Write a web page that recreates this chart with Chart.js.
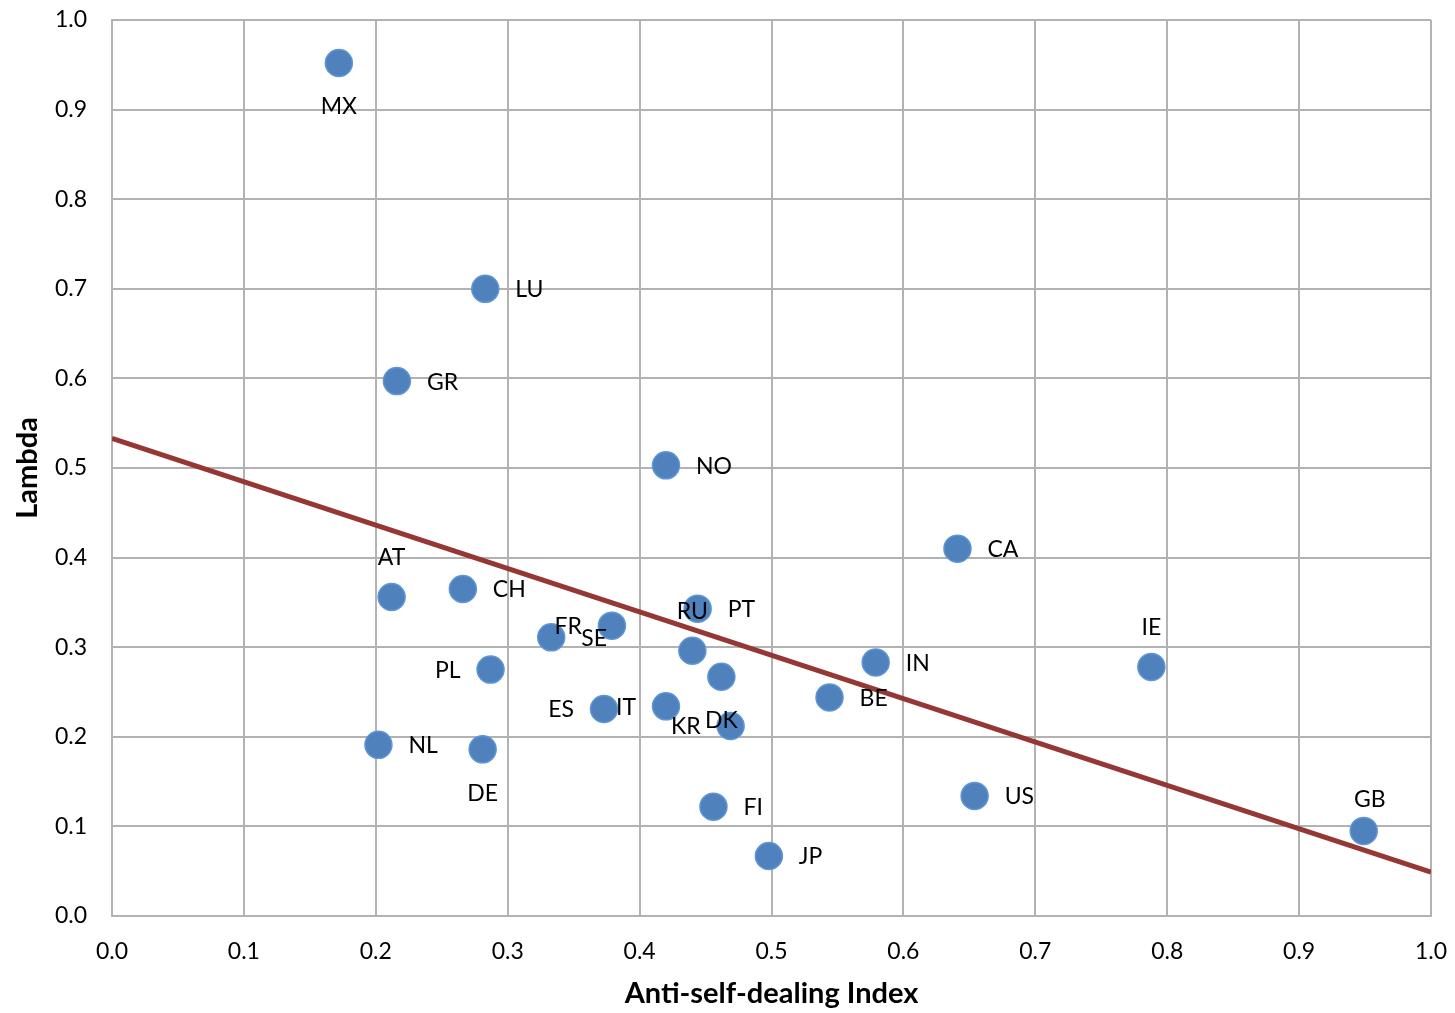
<!DOCTYPE html>
<html>
<head>
<meta charset="utf-8">
<title>Lambda vs Anti-self-dealing Index</title>
<script src="https://cdn.jsdelivr.net/npm/chart.js@4/dist/chart.umd.min.js"></script>
<style>
  html, body { margin: 0; padding: 0; background: #fff; }
  #wrap { width: 1455px; height: 1013px; }
</style>
</head>
<body>
<div id="wrap"><canvas id="chart" width="1455" height="1013"></canvas></div>
<script>
// --- data ---
const countries = ['MX','LU','GR','NO','CA','AT','CH','PT','RU','FR','SE','IN','IE','PL','BE','ES','IT','KR','DK','NL','DE','US','GB','FI','JP'];
const antiSelfDealing = [0.172,0.283,0.216,0.420,0.641,0.212,0.266,0.444,0.440,0.379,0.333,0.579,0.788,0.287,0.544,0.373,0.420,0.469,0.462,0.202,0.281,0.654,0.949,0.456,0.498];
const lambdaValues = [0.952,0.700,0.597,0.503,0.410,0.356,0.365,0.343,0.296,0.324,0.311,0.283,0.278,0.275,0.244,0.231,0.234,0.212,0.267,0.191,0.186,0.134,0.095,0.122,0.067];
const trendX = [0, 1];
const trendY = [0.533, 0.049];
const tickValues = [0,0.1,0.2,0.3,0.4,0.5,0.6,0.7,0.8,0.9,1.0];

// where each label sits relative to its marker (r = right, l = left, a = above, b = below)
const labelPos = ['b','r','r','r','r','a','r','r','a','l','r','r','a','l','r','l','l','l','b','r','b','r','a','r','r'];

const FONT = 'Lato, "Open Sans", sans-serif';
const GRID = '#b2b2b2';

const points = antiSelfDealing.map((x, i) => ({ x: x, y: lambdaValues[i] }));
const trend = trendX.map((x, i) => ({ x: x, y: trendY[i] }));

// data labels next to each marker
const pointLabels = {
  id: 'pointLabels',
  afterDatasetsDraw(chart) {
    const ctx = chart.ctx;
    const meta = chart.getDatasetMeta(0);
    ctx.save();
    ctx.font = '23px ' + FONT;
    ctx.fillStyle = '#000';
    ctx.textBaseline = 'middle';
    meta.data.forEach((el, i) => {
      const p = labelPos[i];
      let x = el.x, y = el.y;
      if (p === 'r') { ctx.textAlign = 'left'; x += 30; }
      else if (p === 'l') { ctx.textAlign = 'right'; x -= 30; }
      else if (p === 'a') { ctx.textAlign = 'center'; y -= (countries[i] === 'GB' ? 32 : 40); x += (countries[i] === 'GB' ? 6 : 0); }
      else { ctx.textAlign = 'center'; y += 43; }
      ctx.fillText(countries[i], x, y + 1);
    });
    ctx.restore();
  }
};

new Chart(document.getElementById('chart'), {
  type: 'scatter',
  data: {
    datasets: [
      {
        label: 'Countries',
        data: points,
        backgroundColor: '#4F81BD',
        borderColor: '#5E96D6',
        borderWidth: 1.5,
        pointRadius: 13.5,
        pointHoverRadius: 13.5,
        order: 1
      },
      {
        label: 'Trend',
        type: 'line',
        data: trend,
        borderColor: '#953735',
        borderWidth: 5,
        pointRadius: 0,
        fill: false,
        order: 2
      }
    ]
  },
  options: {
    responsive: false,
    animation: false,
    layout: { padding: { left: 0, top: 20, right: 24, bottom: 0 } },
    plugins: {
      legend: { display: false },
      tooltip: { enabled: false }
    },
    scales: {
      x: {
        type: 'linear',
        min: 0, max: 1,
        afterBuildTicks: (s) => { s.ticks = tickValues.map(v => ({ value: v })); },
        afterFit: (s) => { s.height = 97; s.paddingLeft = 0; s.paddingRight = 0; },
        grid: { color: GRID, lineWidth: 2, drawTicks: false },
        border: { color: GRID, width: 2 },
        ticks: {
          padding: 22,
          color: '#000',
          font: { family: FONT, size: 23 },
          callback: (v) => Number(v).toFixed(1)
        },
        title: {
          display: true,
          text: 'Anti-self-dealing Index',
          color: '#000',
          font: { family: FONT, size: 29, weight: 'bold' },
          padding: { top: 0, bottom: 2 }
        }
      },
      y: {
        type: 'linear',
        min: 0, max: 1,
        afterBuildTicks: (s) => { s.ticks = tickValues.map(v => ({ value: v })); },
        afterFit: (s) => { s.width = 112; s.paddingTop = 0; s.paddingBottom = 0; },
        grid: { color: GRID, lineWidth: 2, drawTicks: false },
        border: { color: GRID, width: 2 },
        ticks: {
          padding: 25,
          color: '#000',
          font: { family: FONT, size: 23 },
          callback: (v) => Number(v).toFixed(1)
        },
        title: {
          display: true,
          text: 'Lambda',
          color: '#000',
          font: { family: FONT, size: 29, weight: 'bold' },
          padding: { top: 10, bottom: 0 }
        }
      }
    }
  },
  plugins: [pointLabels]
});
</script>
</body>
</html>
